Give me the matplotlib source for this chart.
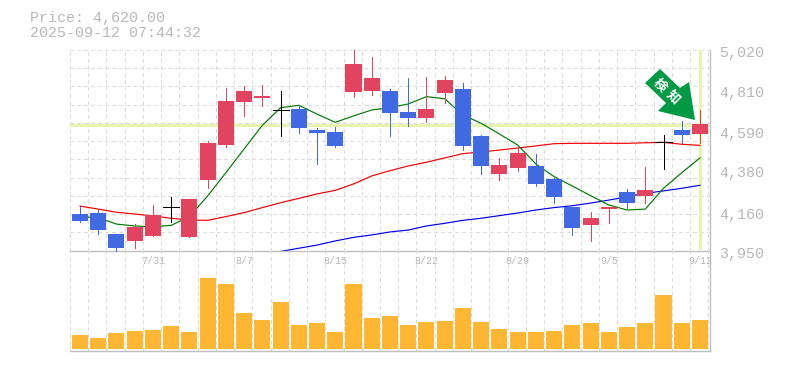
import numpy as np
from matplotlib import pyplot as plt
from matplotlib.patches import Polygon

########################################################################
# Data
########################################################################

opens = [4145, 4150, 4038, 4001, 4027, 4180, 4022, 4326, 4513, 4742, 4764, 4698, 4705, 4593, 4582, 4796, 4801, 4801, 4689, 4657, 4791, 4812, 4561, 4358, 4390, 4401, 4332, 4182, 4086, 4171, 4262, 4241, 4527, 4593, 4572]
highs = [4187, 4166, 4038, 4091, 4193, 4235, 4225, 4534, 4817, 4828, 4833, 4801, 4726, 4604, 4609, 5020, 4983, 4812, 4871, 4876, 4881, 4844, 4566, 4444, 4508, 4465, 4337, 4182, 4155, 4182, 4278, 4396, 4566, 4641, 4700]
lows = [4102, 4038, 3947, 3963, 4027, 4102, 4022, 4284, 4502, 4668, 4721, 4561, 4577, 4412, 4502, 4769, 4780, 4561, 4614, 4636, 4737, 4486, 4358, 4326, 4374, 4294, 4203, 4033, 4001, 4097, 4177, 4203, 4385, 4524, 4524]
closes = [4107, 4059, 3963, 4075, 4139, 4180, 4225, 4524, 4748, 4801, 4775, 4698, 4604, 4577, 4508, 4945, 4871, 4684, 4657, 4705, 4860, 4508, 4401, 4406, 4470, 4305, 4235, 4070, 4123, 4182, 4203, 4273, 4527, 4566, 4625]

ma_short = [4131, 4125, 4091, 4081, 4077, 4084, 4131, 4241, 4365, 4492, 4618, 4712, 4725, 4678, 4634, 4668, 4700, 4712, 4732, 4771, 4760, 4673, 4629, 4572, 4513, 4412, 4344, 4294, 4243, 4193, 4166, 4171, 4282, 4365, 4444]
ma_mid = [4187, 4171, 4154, 4145, 4134, 4122, 4113, 4111, 4131, 4152, 4179, 4205, 4228, 4252, 4271, 4305, 4348, 4376, 4401, 4421, 4444, 4467, 4476, 4486, 4497, 4508, 4520, 4522, 4522, 4522, 4522, 4525, 4527, 4517, 4511]
ma_long = [np.nan] * 11 + [3945, 3962, 3979, 4001, 4020, 4033, 4049, 4059, 4081, 4095, 4111, 4122, 4136, 4150, 4166, 4179, 4189, 4203, 4219, 4237, 4255, 4268, 4282, 4298]

volumes = [14, 11, 16, 18, 19, 23, 17, 71, 65, 36, 29, 47, 24, 26, 17, 65, 31, 33, 24, 27, 28, 41, 27, 20, 17, 17, 18, 24, 26, 17, 22, 26, 54, 26, 29]

date_idx = [4, 9, 14, 19, 24, 29, 34]
date_labels = ['7/31', '8/7', '8/15', '8/22', '8/29', '9/5', '9/12']
price_ticks = [5020, 4810, 4590, 4380, 4160, 3950]
price_labels = ['5,020', '4,810', '4,590', '4,380', '4,160', '3,950']
last_price = 4620
title_lines = ['Price: 4,620.00', '2025-09-12 07:44:32']

########################################################################
# Style
########################################################################

RED = '#e2435f'
BLUE = '#4169e1'
ORANGE = '#ffb733'
GREEN = '#009944'
LIGHT = '#e6f4b0'
GRAY = '#c0c0c0'
TEXT = '#b8b8b8'
GRID = '#dcdcdc'
MONO = 'Liberation Mono'
W, H = 785, 370
PX = 0.72

def pixel_axes(fig, x0, y0, x1, y1):
    return fig.add_axes([x0 / W, 1 - y1 / H, (x1 - x0) / W, (y1 - y0) / H])

def setup_axes(ax):
    ax.set_xlim(-0.548, 34.55)
    ax.set_xticks([])
    ax.set_yticks([])
    ax.spines['top'].set_visible(False)
    ax.spines['left'].set_visible(False)
    for side in ['bottom', 'right']:
        ax.spines[side].set_color(GRAY)
        ax.spines[side].set_linewidth(1.0)
    for x in np.arange(-0.548, 35, 1.0):
        ax.axvline(x, color=GRID, lw=PX, ls=(0, (3, 3)), zorder=0, antialiased=False)

fig = plt.figure(figsize=(W / 100, H / 100), dpi=100)

########################################################################
# Price panel
########################################################################

ax = pixel_axes(fig, 70, 50, 710, 250.5)
setup_axes(ax)
ax.set_ylim(3950, 5020)
ax.patch.set_alpha(0)
for y in np.linspace(3950, 5020, 12):
    ax.axhline(y, color=GRID, lw=PX, ls=(0, (3, 3)), zorder=0, antialiased=False)

ax.axhline(last_price, color=LIGHT, lw=2.2, zorder=1)
ax.axvline(34, ymin=0.01, ymax=0.995, color=LIGHT, lw=2.2, zorder=1)

idx = np.arange(len(closes))
ax.plot(idx, ma_long, color='#0000e6', lw=0.85, zorder=2, clip_on=False)
ax.plot(idx, ma_mid, color='#f00000', lw=0.85, zorder=2)
ax.plot(idx, ma_short, color='#007a00', lw=0.85, zorder=2)

for i in idx:
    o, h, l, c = opens[i], highs[i], lows[i], closes[i]
    if o == c:
        col = 'black'
    elif c > o:
        col = RED
    else:
        col = BLUE
    ax.vlines(i, l, h, color=col, lw=PX, zorder=3, antialiased=False, clip_on=False)
    if o == c:
        ax.hlines(c, i - 0.44, i + 0.44, color=col, lw=PX, zorder=3, antialiased=False)
    else:
        ax.bar(i, abs(c - o), bottom=min(o, c), width=0.88, color=col, lw=0, zorder=3, clip_on=False)

# signal arrow, pixel outline
arrow_px = [(660, 69), (680, 88), (689, 82), (695, 120), (658, 111), (666, 103), (645, 83)]
arrow_pts = [(x / W, 1 - y / H) for x, y in arrow_px]
fig.add_artist(Polygon(arrow_pts, closed=True, transform=fig.transFigure, color=GREEN, lw=0, zorder=5))
fig.text(660 / W, 1 - 85 / H, '検', color='white', fontsize=9.5, fontweight='bold', rotation=-45,
         family=['Noto Sans CJK JP', 'DejaVu Sans'], ha='center', va='center', zorder=6)
fig.text(673 / W, 1 - 97 / H, '知', color='white', fontsize=9.5, fontweight='bold', rotation=-45,
         family=['Noto Sans CJK JP', 'DejaVu Sans'], ha='center', va='center', zorder=6)

########################################################################
# Volume panel
########################################################################

ax2 = pixel_axes(fig, 70, 250.5, 710, 350.5)
setup_axes(ax2)
ax2.set_ylim(-2, 98)
ax2.patch.set_alpha(0)
ax2.bar(idx, volumes, width=0.88, color=ORANGE, lw=0, zorder=2)

########################################################################
# Text
########################################################################

for i, lbl in zip(date_idx, date_labels):
    ax2.text(i, 87, lbl, color=TEXT, fontsize=7.2, family=MONO, ha='center', va='center', clip_on=False)

for p, lbl in zip(price_ticks, price_labels):
    y_px = 50 + (5020 - p) / 1070 * 200.5 + 3.5
    fig.text(719 / W, 1 - y_px / H, lbl, color=TEXT, fontsize=10.8, family=MONO, va='center')

fig.text(30 / W, 1 - 18 / H, title_lines[0], color=TEXT, fontsize=10.8, family=MONO, va='center')
fig.text(30 / W, 1 - 33 / H, title_lines[1], color=TEXT, fontsize=10.8, family=MONO, va='center')

plt.savefig('out.png', dpi=100)
print('Plot out.png generated')
